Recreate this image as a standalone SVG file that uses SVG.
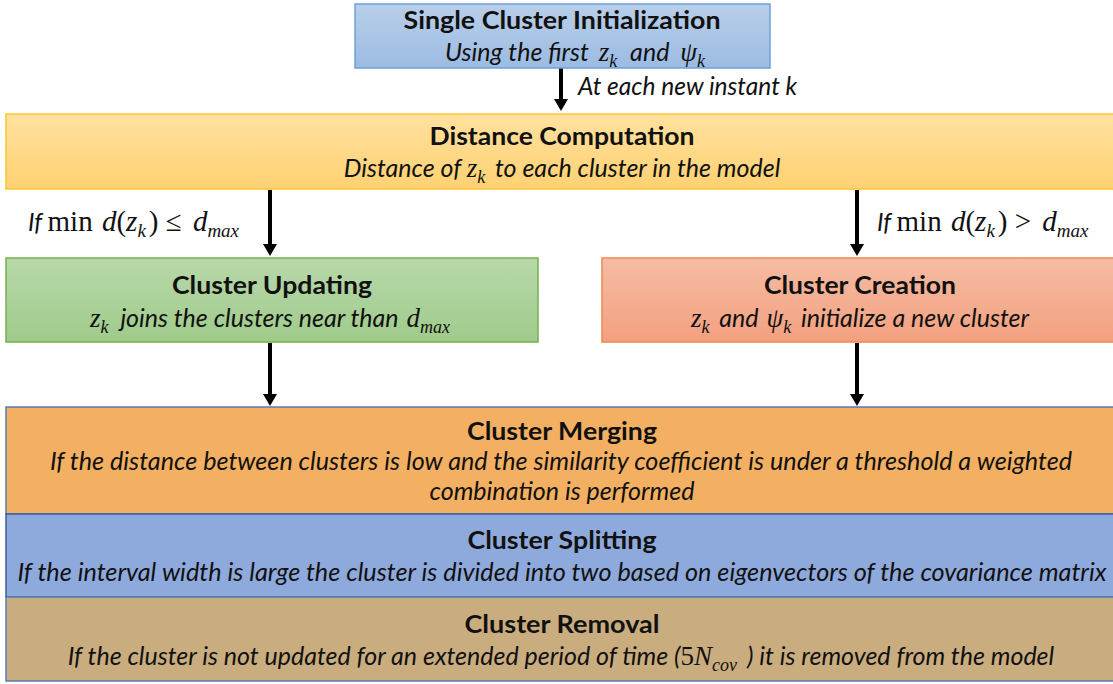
<svg xmlns="http://www.w3.org/2000/svg" width="1113" height="684" viewBox="0 0 1113 684">
  <defs>
    <linearGradient id="gBlue" x1="0" y1="0" x2="0" y2="1">
      <stop offset="0" stop-color="#b9cfea"/>
      <stop offset="1" stop-color="#9bbbe2"/>
    </linearGradient>
    <linearGradient id="gYellow" x1="0" y1="0" x2="0" y2="1">
      <stop offset="0" stop-color="#ffe1a0"/>
      <stop offset="1" stop-color="#ffd171"/>
    </linearGradient>
    <linearGradient id="gGreen" x1="0" y1="0" x2="0" y2="1">
      <stop offset="0" stop-color="#b8d8aa"/>
      <stop offset="1" stop-color="#9fcb8b"/>
    </linearGradient>
    <linearGradient id="gRed" x1="0" y1="0" x2="0" y2="1">
      <stop offset="0" stop-color="#f5bca4"/>
      <stop offset="1" stop-color="#f3a07f"/>
    </linearGradient>
    <marker id="arrow" markerUnits="userSpaceOnUse" viewBox="0 0 12 14" markerWidth="12" markerHeight="14" refX="2" refY="7" orient="auto">
      <path d="M0,0 L12,7 L0,14 Z" fill="#000"/>
    </marker>
  </defs>
  <style>
    .title { font-family: Lato, "Liberation Sans", sans-serif; font-weight: bold; font-size: 24px; fill: #111; text-anchor: middle; }
    .sub { font-family: Lato, "Liberation Sans", sans-serif; font-style: italic; font-size: 25px; fill: #111; text-anchor: middle; }
    .lbl { font-family: Lato, "Liberation Sans", sans-serif; font-style: italic; font-size: 24.5px; fill: #111; }
    .m { font-family: "Liberation Serif", "DejaVu Serif", serif; font-style: italic; font-size: 27px; }
    .mr { font-family: "Liberation Serif", "DejaVu Serif", serif; font-style: normal; font-size: 27px; }
    .s { font-family: "Liberation Serif", "DejaVu Serif", serif; font-style: italic; font-size: 18px; }
    .lbl .m, .lbl .mr { font-size: 29px; }
    .lbl .s { font-size: 19px; }
    .conn { stroke: #000; stroke-width: 4; fill: none; marker-end: url(#arrow); }
  </style>

  <rect width="1113" height="684" fill="#fff"/>

  <!-- connectors -->
  <g id="connectors">
    <line class="conn" x1="561" y1="68" x2="561" y2="101"/>
    <line class="conn" x1="270" y1="190" x2="270" y2="246"/>
    <line class="conn" x1="857" y1="190" x2="857" y2="246"/>
    <line class="conn" x1="270" y1="343" x2="270" y2="396"/>
    <line class="conn" x1="857" y1="343" x2="857" y2="396"/>
    <text class="lbl" x="28" y="95" dx="550">At each new instant k</text>
    <text class="lbl" x="28" y="231">If <tspan class="mr">min </tspan><tspan class="m" dx="2">d</tspan><tspan class="mr">(</tspan><tspan class="m">z</tspan><tspan class="s" dy="6">k</tspan><tspan class="mr" dy="-6" dx="3">)  ≤  </tspan><tspan class="m" dx="4">d</tspan><tspan class="s" dy="6">max</tspan></text>
    <text class="lbl" x="877" y="231">If <tspan class="mr">min </tspan><tspan class="m" dx="2">d</tspan><tspan class="mr">(</tspan><tspan class="m">z</tspan><tspan class="s" dy="6">k</tspan><tspan class="mr" dy="-6" dx="3">)  &gt;  </tspan><tspan class="m" dx="4">d</tspan><tspan class="s" dy="6">max</tspan></text>
  </g>

  <!-- initialization -->
  <g id="init">
    <rect x="355" y="4" width="415" height="64" fill="url(#gBlue)" stroke="#6fa0d8" stroke-width="1.5"/>
    <text class="title" x="562" y="29" textLength="317" lengthAdjust="spacingAndGlyphs">Single Cluster Initialization</text>
    <text class="sub" x="575" y="61">Using the first <tspan class="m" dx="4">z</tspan><tspan class="s" dy="6">k</tspan><tspan dy="-6" dx="7"> and </tspan><tspan class="m" dx="5">ψ</tspan><tspan class="s" dy="6">k</tspan></text>
  </g>

  <!-- distance computation -->
  <g id="distance">
    <rect x="6" y="114" width="1112" height="75" fill="url(#gYellow)" stroke="#ffc431" stroke-width="1.5"/>
    <text class="title" x="562" y="145" textLength="265" lengthAdjust="spacingAndGlyphs">Distance Computation</text>
    <text class="sub" x="562" y="177">Distance of <tspan class="m">z</tspan><tspan class="s" dy="6">k</tspan><tspan dy="-6" dx="4"> to each cluster in the model</tspan></text>
  </g>

  <!-- cluster updating -->
  <g id="updating">
    <rect x="6" y="258" width="532" height="84" fill="url(#gGreen)" stroke="#75b04c" stroke-width="1.5"/>
    <text class="title" x="272" y="294" textLength="200" lengthAdjust="spacingAndGlyphs">Cluster Updating</text>
    <text class="sub" x="270" y="327"><tspan class="m">z</tspan><tspan class="s" dy="6">k</tspan><tspan dy="-6" dx="6"> joins the clusters near than </tspan><tspan class="m" dx="2">d</tspan><tspan class="s" dy="6">max</tspan></text>
  </g>

  <!-- cluster creation -->
  <g id="creation">
    <rect x="602" y="258" width="516" height="84" fill="url(#gRed)" stroke="#ef884e" stroke-width="1.5"/>
    <text class="title" x="860" y="294" textLength="192" lengthAdjust="spacingAndGlyphs">Cluster Creation</text>
    <text class="sub" x="860" y="327"><tspan class="m">z</tspan><tspan class="s" dy="6">k</tspan><tspan dy="-6" dx="4"> and </tspan><tspan class="m" dx="2">ψ</tspan><tspan class="s" dy="6">k</tspan><tspan dy="-6" dx="4"> initialize a new cluster</tspan></text>
  </g>

  <!-- cluster merging -->
  <g id="merging">
    <rect x="6" y="407" width="1112" height="107" fill="#f4b062" stroke="#5a7bb4" stroke-width="1.5"/>
    <text class="title" x="562" y="440" textLength="190" lengthAdjust="spacingAndGlyphs">Cluster Merging</text>
    <text class="sub" x="561" y="470" textLength="1022" lengthAdjust="spacingAndGlyphs">If the distance between clusters is low and the similarity coefficient is under a threshold a weighted</text>
    <text class="sub" x="562" y="500" textLength="265" lengthAdjust="spacingAndGlyphs">combination is performed</text>
  </g>

  <!-- cluster splitting -->
  <g id="splitting">
    <rect x="6" y="514" width="1112" height="83" fill="#8eaadc" stroke="#3a5e9e" stroke-width="1.5"/>
    <text class="title" x="562" y="549" textLength="189" lengthAdjust="spacingAndGlyphs">Cluster Splitting</text>
    <text class="sub" x="562" y="581" textLength="1089" lengthAdjust="spacingAndGlyphs">If the interval width is large the cluster is divided into two based on eigenvectors of the covariance matrix</text>
  </g>

  <!-- cluster removal -->
  <g id="removal">
    <rect x="6" y="597" width="1112" height="84" fill="#caad7f" stroke="#5a7bb4" stroke-width="1.5"/>
    <text class="title" x="562" y="633" textLength="195" lengthAdjust="spacingAndGlyphs">Cluster Removal</text>
    <text class="sub" x="561" y="665">If the cluster is not updated for an extended period of time (<tspan class="mr">5</tspan><tspan class="m">N</tspan><tspan class="s" dy="6">cov</tspan><tspan dy="-6" dx="10">) it is removed from the model</tspan></text>
  </g>
</svg>
